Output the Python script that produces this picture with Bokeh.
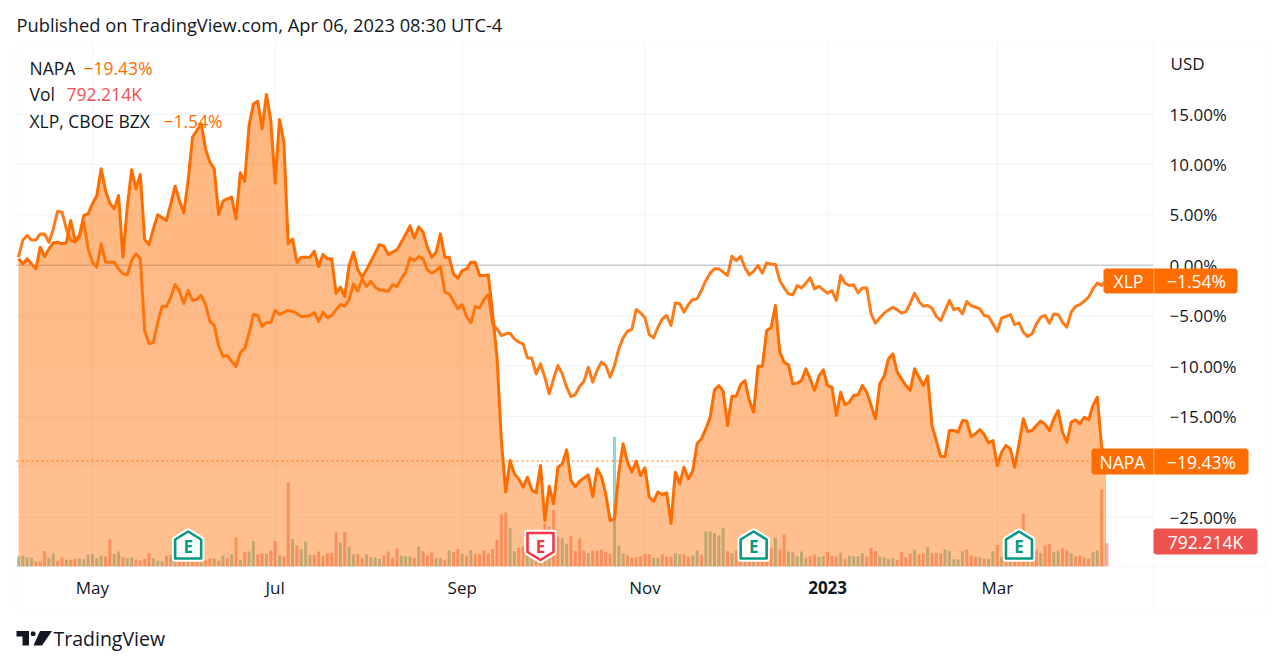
import numpy as np
from bokeh.plotting import figure
from bokeh.models import FixedTicker, Label, PolyAnnotation, Range1d, LinearAxis
from bokeh.embed import file_html
from bokeh.resources import INLINE

# ---------- data (percent change since the first bar; volume in thousands) ----------
NAPA = [0.63,0.13,0.63,0.13,-0.36,1.79,0.86,1.62,2.22,2.28,2.12,2.22,4.43,2.45,2.94,4.93,5.09,6.09,6.91,9.56,
7.41,6.15,5.59,6.91,0.8,5.76,9.46,7.57,9.0,2.55,2.05,3.6,5.0,4.7,4.43,6.09,7.84,6.42,5.19,8.4,
12.7,13.36,14.02,11.54,10.22,9.56,5.03,6.35,6.58,6.75,4.6,9.16,8.33,13.86,16.0,16.27,13.53,16.93,14.35,8.14,
14.45,12.2,2.12,2.6,0.3,0.8,0.8,0.8,1.39,-0.13,1.06,0.63,0.63,-2.78,-2.18,-3.11,-0.03,1.29,-0.46,-1.19,
-0.46,0.36,1.22,2.05,1.89,1.06,1.29,1.52,2.28,3.04,3.9,2.71,3.8,3.3,1.8,0.8,1.29,3.11,0.8,0.8,
-0.86,-1.29,-0.53,-0.36,0.3,0.3,-1.02,-1.02,-0.96,-4.83,-9.13,-17.39,-22.5,-19.38,-20.7,-21.2,-22.02,-21.03,-22.29,-22.58,
-19.87,-25.33,-21.92,-23.68,-20.04,-19.71,-18.32,-21.36,-21.96,-21.43,-21.1,-20.8,-22.95,-20.2,-20.96,-22.68,-25.33,-25.16,-20.53,-17.72,
-19.54,-20.53,-19.44,-20.87,-20.1,-23.0,-23.44,-22.5,-22.75,-22.58,-25.6,-20.53,-21.69,-20.04,-21.2,-20.37,-17.72,-17.23,-16.24,-15.08,
-12.37,-11.94,-12.5,-15.9,-13.0,-13.0,-11.84,-11.44,-13.42,-14.58,-10.02,-10.02,-6.48,-6.2,-4.0,-8.6,-9.62,-9.89,-11.77,-11.7,
-11.44,-10.28,-11.28,-12.43,-11.0,-10.38,-11.94,-12.1,-14.91,-12.6,-13.85,-13.59,-12.93,-12.86,-11.94,-12.6,-13.92,-15.24,-11.77,-11.0,
-9.29,-8.8,-10.61,-11.28,-11.94,-12.43,-10.28,-11.11,-11.94,-11.0,-15.9,-17.46,-18.95,-18.98,-16.4,-16.4,-16.57,-15.41,-15.47,-17.0,
-16.73,-16.3,-16.8,-17.63,-17.39,-19.87,-18.55,-17.89,-18.22,-20.04,-17.72,-15.24,-16.5,-16.4,-15.9,-15.47,-15.8,-16.4,-15.24,-14.42,
-16.57,-17.56,-15.57,-15.34,-15.74,-15.08,-15.34,-13.92,-13.09,-18.05,-19.43]

XLP = [0.8,2.5,2.94,2.5,2.5,3.1,3.1,2.28,3.6,5.36,5.26,3.6,2.45,2.28,2.78,4.27,1.62,0.3,-0.2,2.12,
0.3,0.3,0.3,-0.36,-0.86,-0.96,0.47,1.13,0.63,-6.48,-7.77,-7.67,-5.68,-4.1,-4.1,-3.2,-1.91,-2.6,-3.8,-2.51,
-3.5,-3.4,-3.0,-3.9,-5.58,-5.98,-7.97,-9.06,-8.96,-9.55,-10.05,-8.66,-8.26,-6.78,-4.89,-4.99,-6.08,-5.68,-5.68,-4.49,
-4.89,-4.69,-4.49,-4.59,-4.79,-5.09,-5.09,-4.99,-4.69,-5.58,-4.66,-5.22,-4.99,-4.43,-3.9,-4.07,-3.41,-1.85,-2.58,-1.35,
-2.12,-1.59,-2.18,-2.45,-2.51,-2.61,-1.92,-2.12,-1.35,-0.69,0.73,0.46,0.86,0.63,-0.46,-0.79,-0.53,-0.13,-2.68,-2.84,
-3.6,-4.33,-3.9,-5.09,-5.72,-4.1,-4.23,-3.41,-2.91,-5.82,-6.32,-6.98,-6.81,-6.75,-7.31,-7.64,-7.8,-9.19,-9.23,-10.78,
-9.79,-11.11,-12.76,-11.28,-9.95,-10.78,-12.1,-13.03,-12.83,-12.04,-11.51,-10.12,-11.6,-10.45,-9.62,-9.95,-11.11,-9.95,-8.3,-7.21,
-6.55,-6.38,-4.4,-4.73,-5.22,-6.88,-7.21,-6.15,-5.32,-4.99,-5.98,-3.74,-3.83,-4.66,-3.9,-3.41,-3.34,-2.51,-1.52,-0.79,
-0.36,-0.36,-0.69,-1.02,0.89,0.46,0.89,-0.26,-0.96,-0.59,-0.03,-0.79,0.23,0.13,0.07,-1.52,-2.25,-2.84,-2.94,-2.02,
-2.25,-1.78,-1.26,-2.35,-2.08,-2.45,-2.78,-2.51,-3.5,-1.02,-1.78,-2.02,-1.95,-2.74,-2.25,-2.25,-4.83,-5.75,-5.22,-4.76,
-4.43,-4.17,-4.43,-4.76,-4.6,-3.77,-2.78,-3.6,-4.07,-4.0,-4.27,-5.09,-5.49,-4.5,-3.5,-4.4,-4.27,-4.83,-3.6,-4.0,
-4.17,-4.33,-4.99,-5.09,-5.82,-6.58,-5.26,-5.09,-4.89,-5.89,-5.72,-6.65,-7.08,-6.81,-5.82,-5.16,-4.99,-5.75,-4.83,-4.89,
-5.65,-6.15,-4.66,-4.1,-3.9,-3.57,-3.17,-2.35,-1.78,-2.02,-1.54]

VOLUME_K = [339,362,316,294,170,170,531,294,441,192,305,226,226,260,283,249,396,418,283,373,
339,927,429,509,316,283,305,226,203,260,452,283,192,181,362,396,283,226,170,170,
170,170,170,203,283,260,203,373,283,429,994,226,497,509,870,418,452,429,542,870,
373,339,2859,938,712,576,848,396,396,509,362,452,463,1164,825,1164,678,407,429,283,
407,316,305,260,373,509,294,610,373,350,339,294,678,520,384,475,283,283,226,542,
486,588,429,373,565,429,407,542,463,599,904,1763,1842,1311,520,633,678,452,396,339,
396,1469,1356,1921,1017,960,768,1028,520,960,542,452,542,542,576,486,429,4407,701,452,
373,294,316,350,429,418,294,294,407,339,339,452,418,418,339,373,542,407,1198,1187,
1130,1051,1311,520,452,565,396,452,396,452,396,452,509,644,983,576,1096,509,486,339,
509,294,362,407,316,350,497,362,339,475,260,373,350,350,452,339,633,520,339,316,
260,283,226,486,316,452,576,418,441,655,452,463,452,576,520,249,237,520,576,373,
339,316,260,260,520,735,339,339,316,339,362,1785,339,396,565,463,723,757,497,542,
622,542,452,350,373,305,271,486,542,2622,792.214]

VOL_UP = [1,1,1,1,0,0,0,1,1,0,0,1,0,0,1,1,1,1,1,1,
0,0,1,1,0,1,1,0,0,0,0,1,1,1,0,1,1,0,0,1,
0,0,1,0,0,1,0,1,0,1,0,1,0,1,1,0,0,1,0,0,
1,0,0,1,0,1,1,1,0,0,0,0,0,0,1,0,1,1,0,0,
1,1,1,1,0,0,0,0,1,1,1,0,1,0,0,0,1,1,0,1,
0,0,1,0,1,0,0,0,0,0,0,0,0,1,1,0,0,1,1,0,
1,0,1,0,0,1,1,0,0,0,0,1,0,0,0,0,0,1,1,1,
0,0,0,0,0,0,1,1,0,0,0,1,1,0,0,1,1,0,1,1,
1,1,1,0,1,0,0,1,0,1,0,0,0,0,1,0,0,1,1,1,
1,1,0,0,1,1,0,0,0,1,0,1,1,1,1,0,0,0,1,1,
1,1,0,0,0,0,1,0,0,1,0,0,0,1,1,1,1,1,0,0,
0,1,0,1,1,0,1,0,1,0,0,0,1,0,0,1,0,0,1,1,
0,0,1,0,0,0,0,1,1,0,0]

MONTH_TICKS = [17, 59, 102, 144, 225]
MONTH_LABELS = ["May", "Jul", "Sep", "Nov", "Mar"]
YEAR_TICK = 186
YEAR_LABEL = "2023"
PCT_TICKS = [15, 10, 5, 0, -5, -10, -15, -25]
PCT_GRID = [15, 10, 5, 0, -5, -10, -15, -20, -25]
EARN_POS = [39, 169, 230]
EARN_NEG = [120]
NAPA_LAST = -19.43
XLP_LAST = -1.54

# ---------- styling / layout ----------
ORANGE = "#FF6D00"
TEAL = "#26A69A"
RED = "#EF5350"
INK = "#131722"
GRID = "#F0F3FA"
SEP = "#E0E3EB"
FONT = "Open Sans"
W, H = 1272, 658
BAR_PX, BAR0 = 4.35, 18.0        # px per bar, px of bar 0
PCT_PX, ZERO = 10.08, 264.7      # px per percent, px of 0 %
KILO_PX, FLOOR = 34.0, 566.0     # thousand shares per px, px of the time axis
PANE_L, PANE_R, PANE_T = 16.0, 1153.0, 42.0


def bar_of(px):
    return (px - BAR0) / BAR_PX


def pct_of(py):
    return (ZERO - py) / PCT_PX


def sy(py):
    return H - py


idx = np.arange(len(NAPA))
p = figure(width=W, height=H, x_range=Range1d(bar_of(0), bar_of(W)),
           y_range=Range1d(pct_of(H), pct_of(0)), x_axis_location=None, y_axis_location=None,
           output_backend="svg", toolbar_location=None, min_border=0,
           background_fill_color="white", border_fill_color="white", outline_line_color=None)
p.extra_y_ranges = {"vol": Range1d((FLOOR - H) * KILO_PX, FLOOR * KILO_PX)}
p.grid.visible = False

x_l, x_r = bar_of(PANE_L), bar_of(PANE_R)
y_b, y_t = pct_of(FLOOR), pct_of(PANE_T)

# grid within the price pane
g_x = MONTH_TICKS + [YEAR_TICK]
p.segment(g_x, [y_b] * len(g_x), g_x, [y_t] * len(g_x), line_color=GRID, line_width=1)
p.segment([x_l] * len(PCT_GRID), PCT_GRID, [x_r] * len(PCT_GRID), PCT_GRID,
          line_color=GRID, line_width=1)
p.line([x_l, x_r], [0, 0], line_color="#B2B5BE", line_width=1)

# axes
def style(axis, size="17px", bold=False):
    axis.major_tick_line_color = None
    axis.minor_tick_line_color = None
    axis.axis_line_color = None
    axis.major_label_text_font = FONT
    axis.major_label_text_font_size = size
    axis.major_label_text_color = INK
    if bold:
        axis.major_label_text_font_style = "bold"


xa = LinearAxis(fixed_location=y_b, ticker=FixedTicker(ticks=MONTH_TICKS),
                major_label_overrides=dict(zip(MONTH_TICKS, MONTH_LABELS)), major_label_standoff=3)
style(xa)
p.add_layout(xa, "below")
xb = LinearAxis(fixed_location=y_b, ticker=FixedTicker(ticks=[YEAR_TICK]),
                major_label_overrides={YEAR_TICK: YEAR_LABEL}, major_label_standoff=8)
style(xb, bold=True)
p.add_layout(xb, "below")
ya = LinearAxis(fixed_location=x_r, ticker=FixedTicker(ticks=PCT_TICKS),
                major_label_overrides={t: f"{t:.2f}%".replace("-", "\u2212") for t in PCT_TICKS},
                major_label_standoff=10)
style(ya)
p.add_layout(ya, "right")

# volume
vol = np.array(VOLUME_K, dtype=float)
up = np.array(VOL_UP, dtype=bool)
core = idx < len(idx) - 1
for mask, colour in ((up & core, TEAL), (~up & core, RED)):
    p.vbar(x=idx[mask], top=vol[mask], bottom=0, width=3 / BAR_PX, fill_color=colour,
           fill_alpha=0.5, line_color=None, y_range_name="vol")

# XLP under area
p.line(idx, XLP, line_color=ORANGE, line_width=3, line_join="round", line_alpha=0.9)

# NAPA area: a vertical fade, denser towards the top
p.varea(x=idx, y1=np.full(len(idx), y_b), y2=NAPA, fill_color=ORANGE, fill_alpha=0.44)
for level in (-20, -10, 0, 10):
    p.varea(x=idx, y1=np.full(len(idx), level),
            y2=np.maximum(np.array(NAPA), level), fill_color=ORANGE, fill_alpha=0.025)
p.line(idx, NAPA, line_color=ORANGE, line_width=3, line_join="round")

# last volume bar sits clear of the area
p.vbar(x=idx[-1:] + 0.2, top=vol[-1:], bottom=0, width=3 / BAR_PX, fill_color=RED,
       fill_alpha=0.5, line_color=None, y_range_name="vol")

# last-price dotted line
p.line([x_l, x_r], [NAPA_LAST, NAPA_LAST], line_color=ORANGE, line_width=1, line_dash=[2, 3])

# earnings flags (pixel-shaped, anchored on the bar index)
HOUSE = np.array([(-13, 0), (13, 0), (13, -19), (0, -27), (-13, -19)], dtype=float)
SHIELD = np.array([(-13, -27), (13, -27), (13, -8), (0, 0), (-13, -8)], dtype=float)


def flag(i, shape, colour, base_px, txt_dy):
    xs = i + shape[:, 0] / BAR_PX
    ys = (base_px - shape[:, 1]) * KILO_PX
    p.patch(xs, ys, fill_color="white", line_color="white", line_width=6.5, line_join="round",
            y_range_name="vol")
    p.patch(xs, ys, fill_color="white", line_color=colour, line_width=2.6, line_join="round",
            y_range_name="vol")
    p.text([i], [(base_px + txt_dy) * KILO_PX], ["E"], text_color=colour,
           text_font={"value": FONT}, text_font_style="bold", text_font_size="17px",
           text_align="center", text_baseline="middle", y_range_name="vol")


for i in EARN_POS:
    flag(i, HOUSE, "#089981", 8, 12)
for i in EARN_NEG:
    flag(i, SHIELD, "#F23645", 6.5, 13.5)


def poly(points, fill=None, line=None):
    p.add_layout(PolyAnnotation(xs=[a for a, _ in points], ys=[sy(b) for _, b in points],
                                xs_units="screen", ys_units="screen", fill_color=fill,
                                fill_alpha=1 if fill else 0, line_color=line, line_width=1,
                                level="overlay"))


def box(x0, y0, x1, y1, fill=None, line=None):
    poly([(x0, y0), (x1, y0), (x1, y1), (x0, y1)], fill, line)


def tag(x0, y0, x1, y1, fill, c=2):
    poly([(x0 + c, y0), (x1 - c, y0), (x1, y0 + c), (x1, y1 - c), (x1 - c, y1),
          (x0 + c, y1), (x0, y1 - c), (x0, y0 + c)], fill)


def text(x, py, s, color=INK, size="17.5px", align="left"):
    p.add_layout(Label(x=x, y=sy(py), x_units="screen", y_units="screen", text=s,
                       text_font=FONT, text_font_size=size, text_color=color,
                       text_align=align, text_baseline="middle", level="overlay"))


# outer frame and pane separators
box(15.5, PANE_T, 1264.5, 610, line=GRID)
poly([(15.5, FLOOR), (1264.5, FLOOR)], line=SEP)
poly([(PANE_R, PANE_T), (PANE_R, 610)], line=SEP)

# header, legend
text(16, 24, "Published on TradingView.com, Apr 06, 2023 08:30 UTC-4", size="18.3px")
text(29, 67, "NAPA")
text(83, 67, "\u221219.43%", color=ORANGE)
text(29, 93, "Vol")
text(66, 93, "792.214K", color=RED)
text(29, 120, "XLP, CBOE BZX")
text(163, 120, "\u22121.54%", color=ORANGE)
text(1170, 63, "USD", size="17px")

# price tags
tag(1103, 268, 1237, 293, ORANGE)
box(1153, 268, 1154, 293, "#FFB27A")
text(1128, 280.5, "XLP", color="white", align="center")
text(1196, 280.5, "\u22121.54%", color="white", align="center")
tag(1091, 448, 1248, 474, ORANGE)
box(1153, 448, 1154, 474, "#FFB27A")
text(1122, 461, "NAPA", color="white", align="center")
text(1201, 461, "\u221219.43%", color="white", align="center")
tag(1153, 528, 1257, 554, RED)
text(1205, 541, "792.214K", color="white", align="center")

# footer logo
poly([(16, 630.5), (28.5, 630.5), (28.5, 645), (22, 645), (22, 636), (16, 636)], INK)
poly([(39.5, 630.5), (51.5, 630.5), (41.5, 645), (33, 645)], INK)
poly([(31, 631), (34, 631), (35, 632.5), (35, 634), (34, 635.4), (31, 635.4), (30.3, 634), (30.3, 632.5)], INK)
text(53, 638, "TradingView", size="19.5px", color=INK)

open("out.html", "w").write(file_html(p, INLINE))
